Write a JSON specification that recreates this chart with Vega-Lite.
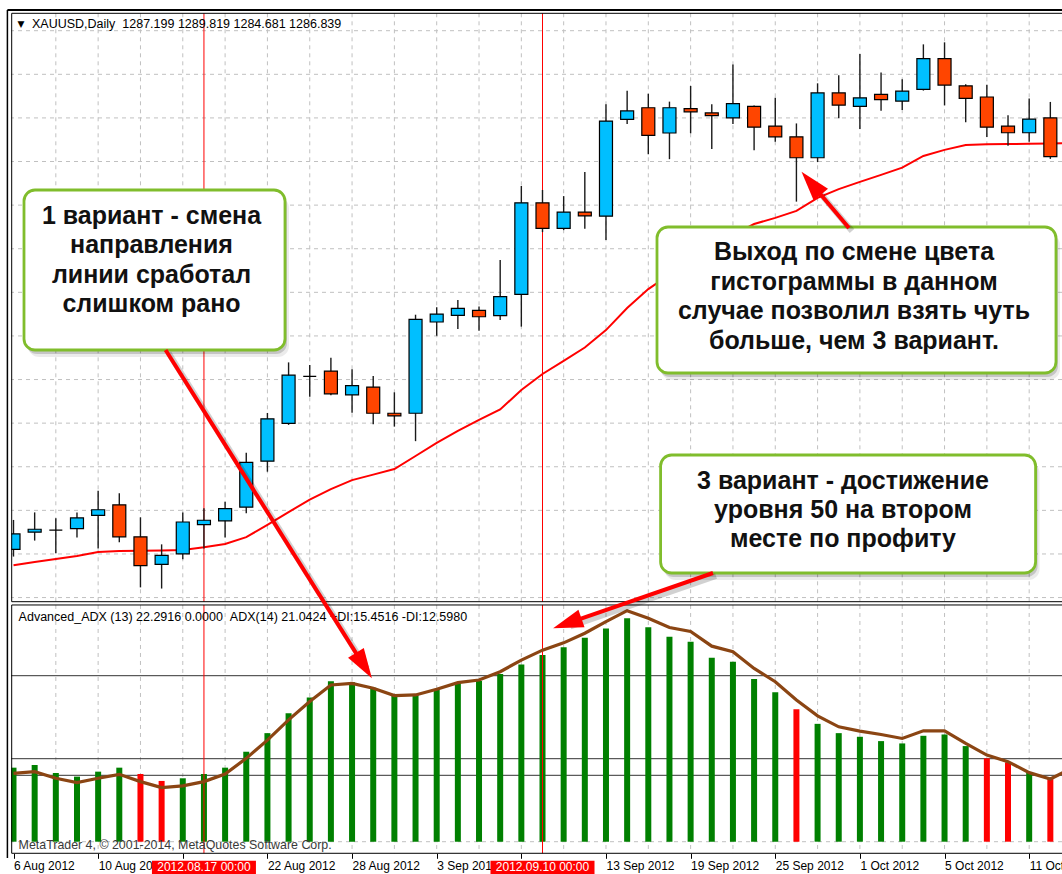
{
"$schema": "https://vega.github.io/schema/vega-lite/v6.json",
"width": 1062, "height": 874, "autosize": {"type": "none"}, "padding": 0,
"background": "#ffffff",
"config": {"view": {"stroke": null}, "font": "Liberation Sans"},
"datasets": {
"bars": [
{"date":"2012-08-06","open":1621.6,"high":1631.7,"low":1619.1,"close":1626.9,"ma":1616.1,"advAdx":22.3,"trend":"bull","adx":20.6},
{"date":"2012-08-07","open":1627.5,"high":1634.3,"low":1624.6,"close":1628.5,"ma":1617.2,"advAdx":23.1,"trend":"bull","adx":21.1},
{"date":"2012-08-08","open":1628.2,"high":1632.3,"low":1620.2,"close":1628.2,"ma":1618.3,"advAdx":20.7,"trend":"bull","adx":19.1},
{"date":"2012-08-09","open":1628.7,"high":1634.3,"low":1625.7,"close":1632.4,"ma":1619.3,"advAdx":19.6,"trend":"bull","adx":17.8},
{"date":"2012-08-10","open":1633.3,"high":1641.7,"low":1621.9,"close":1635.2,"ma":1620.7,"advAdx":21.1,"trend":"bull","adx":19.1},
{"date":"2012-08-13","open":1636.9,"high":1640.9,"low":1624.0,"close":1625.9,"ma":1621.0,"advAdx":22.3,"trend":"bull","adx":20.3},
{"date":"2012-08-14","open":1625.9,"high":1632.6,"low":1608.5,"close":1616.0,"ma":1621.1,"advAdx":20.4,"trend":"bear","adx":18.1},
{"date":"2012-08-15","open":1616.4,"high":1623.3,"low":1608.1,"close":1619.5,"ma":1621.2,"advAdx":18.3,"trend":"bear","adx":16.3},
{"date":"2012-08-16","open":1620.0,"high":1634.3,"low":1618.2,"close":1631.0,"ma":1621.4,"advAdx":19.1,"trend":"bull","adx":16.8},
{"date":"2012-08-17","open":1630.1,"high":1635.7,"low":1621.9,"close":1631.6,"ma":1622.3,"advAdx":20.4,"trend":"bull","adx":18.1},
{"date":"2012-08-20","open":1631.4,"high":1638.0,"low":1625.7,"close":1635.6,"ma":1623.4,"advAdx":22.3,"trend":"bull","adx":20.4},
{"date":"2012-08-21","open":1636.1,"high":1654.8,"low":1634.0,"close":1651.5,"ma":1625.8,"advAdx":27.1,"trend":"bull","adx":25.1},
{"date":"2012-08-22","open":1651.9,"high":1668.5,"low":1648.3,"close":1666.5,"ma":1630.0,"advAdx":32.7,"trend":"bull","adx":30.6},
{"date":"2012-08-23","open":1664.9,"high":1685.9,"low":1664.4,"close":1681.5,"ma":1634.4,"advAdx":38.7,"trend":"bull","adx":36.7},
{"date":"2012-08-24","open":1681.1,"high":1685.0,"low":1674.1,"close":1681.1,"ma":1638.7,"advAdx":43.4,"trend":"bull","adx":42.2},
{"date":"2012-08-27","open":1682.9,"high":1687.5,"low":1674.6,"close":1675.1,"ma":1642.3,"advAdx":48.3,"trend":"bull","adx":47.2},
{"date":"2012-08-28","open":1674.7,"high":1683.5,"low":1668.6,"close":1677.9,"ma":1645.4,"advAdx":48.0,"trend":"bull","adx":47.7},
{"date":"2012-08-29","open":1677.4,"high":1681.2,"low":1664.6,"close":1668.4,"ma":1647.3,"advAdx":46.4,"trend":"bull","adx":46.2},
{"date":"2012-08-30","open":1668.4,"high":1675.6,"low":1663.8,"close":1667.5,"ma":1649.2,"advAdx":44.2,"trend":"bull","adx":44.0},
{"date":"2012-08-31","open":1668.4,"high":1702.3,"low":1658.8,"close":1700.7,"ma":1653.7,"advAdx":44.4,"trend":"bull","adx":44.2},
{"date":"2012-09-03","open":1699.8,"high":1704.9,"low":1695.1,"close":1702.5,"ma":1658.2,"advAdx":45.7,"trend":"bull","adx":45.9},
{"date":"2012-09-04","open":1702.1,"high":1707.4,"low":1697.4,"close":1704.5,"ma":1662.3,"advAdx":47.7,"trend":"bull","adx":47.9},
{"date":"2012-09-05","open":1703.8,"high":1705.1,"low":1696.8,"close":1701.6,"ma":1666.1,"advAdx":48.4,"trend":"bull","adx":48.7},
{"date":"2012-09-06","open":1702.0,"high":1721.1,"low":1700.5,"close":1708.5,"ma":1669.7,"advAdx":50.5,"trend":"bull","adx":51.2},
{"date":"2012-09-07","open":1709.3,"high":1746.6,"low":1698.2,"close":1740.8,"ma":1676.4,"advAdx":53.4,"trend":"bull","adx":54.7},
{"date":"2012-09-10","open":1740.8,"high":1745.2,"low":1730.7,"close":1732.0,"ma":1681.9,"advAdx":56.2,"trend":"bull","adx":57.7},
{"date":"2012-09-11","open":1732.0,"high":1743.1,"low":1731.4,"close":1737.6,"ma":1686.4,"advAdx":58.6,"trend":"bull","adx":59.9},
{"date":"2012-09-12","open":1737.6,"high":1751.4,"low":1731.9,"close":1736.3,"ma":1691.0,"advAdx":61.4,"trend":"bull","adx":62.8},
{"date":"2012-09-13","open":1736.2,"high":1774.7,"low":1728.0,"close":1768.9,"ma":1697.0,"advAdx":64.2,"trend":"bull","adx":66.3},
{"date":"2012-09-14","open":1769.5,"high":1779.3,"low":1767.9,"close":1772.4,"ma":1704.6,"advAdx":67.3,"trend":"bull","adx":69.6},
{"date":"2012-09-17","open":1773.5,"high":1778.3,"low":1757.5,"close":1764.0,"ma":1711.1,"advAdx":64.6,"trend":"bull","adx":67.3},
{"date":"2012-09-18","open":1764.8,"high":1775.6,"low":1755.8,"close":1773.5,"ma":1716.1,"advAdx":61.7,"trend":"bull","adx":64.5},
{"date":"2012-09-19","open":1773.2,"high":1781.0,"low":1764.7,"close":1772.1,"ma":1720.6,"advAdx":60.2,"trend":"bull","adx":63.3},
{"date":"2012-09-20","open":1771.7,"high":1774.7,"low":1759.3,"close":1770.8,"ma":1725.3,"advAdx":55.4,"trend":"bull","adx":58.9},
{"date":"2012-09-21","open":1770.0,"high":1788.4,"low":1767.9,"close":1774.9,"ma":1729.7,"advAdx":54.2,"trend":"bull","adx":57.2},
{"date":"2012-09-24","open":1774.0,"high":1774.3,"low":1758.9,"close":1766.8,"ma":1733.5,"advAdx":49.0,"trend":"bull","adx":52.2},
{"date":"2012-09-25","open":1767.2,"high":1776.9,"low":1761.8,"close":1763.5,"ma":1735.6,"advAdx":45.0,"trend":"bull","adx":48.2},
{"date":"2012-09-26","open":1763.5,"high":1768.1,"low":1741.2,"close":1756.3,"ma":1738.0,"advAdx":39.9,"trend":"bear","adx":42.7},
{"date":"2012-09-27","open":1756.3,"high":1781.9,"low":1754.8,"close":1778.6,"ma":1742.5,"advAdx":35.5,"trend":"bull","adx":37.9},
{"date":"2012-09-28","open":1778.6,"high":1784.7,"low":1769.9,"close":1774.4,"ma":1745.5,"advAdx":32.7,"trend":"bull","adx":34.6},
{"date":"2012-10-01","open":1774.0,"high":1792.0,"low":1766.2,"close":1776.9,"ma":1748.0,"advAdx":31.6,"trend":"bull","adx":33.3},
{"date":"2012-10-02","open":1778.1,"high":1785.6,"low":1772.5,"close":1776.3,"ma":1750.4,"advAdx":30.3,"trend":"bull","adx":32.3},
{"date":"2012-10-03","open":1775.8,"high":1783.3,"low":1772.7,"close":1779.2,"ma":1752.9,"advAdx":29.6,"trend":"bull","adx":31.1},
{"date":"2012-10-04","open":1779.8,"high":1795.3,"low":1779.4,"close":1790.4,"ma":1756.9,"advAdx":31.9,"trend":"bull","adx":33.4},
{"date":"2012-10-05","open":1790.4,"high":1796.0,"low":1774.3,"close":1781.3,"ma":1759.0,"advAdx":32.3,"trend":"bull","adx":33.4},
{"date":"2012-10-08","open":1781.0,"high":1781.6,"low":1768.5,"close":1776.7,"ma":1760.7,"advAdx":28.8,"trend":"bull","adx":29.6},
{"date":"2012-10-09","open":1777.2,"high":1781.4,"low":1763.4,"close":1766.8,"ma":1760.9,"advAdx":25.1,"trend":"bear","adx":26.1},
{"date":"2012-10-10","open":1767.2,"high":1770.9,"low":1760.4,"close":1764.9,"ma":1761.0,"advAdx":23.9,"trend":"bear","adx":24.1},
{"date":"2012-10-11","open":1764.9,"high":1776.7,"low":1761.8,"close":1769.6,"ma":1761.1,"advAdx":20.8,"trend":"bull","adx":20.8},
{"date":"2012-10-12","open":1770.0,"high":1775.5,"low":1755.9,"close":1756.7,"ma":1761.2,"advAdx":19.1,"trend":"bear","adx":18.9},
{"date":"2012-10-15","open":1756.7,"high":1761.0,"low":1744.0,"close":1750.2,"ma":1761.3,"advAdx":21.5,"trend":"bull","adx":22.1}
],
"cross": [
{"date":"2012-08-17","label":"2012.08.17 00:00"},
{"date":"2012-09-10","label":"2012.09.10 00:00"}
],
"levels": [{"level":20},{"level":25},{"level":50}],
"priceGrid": [{"price":1605},{"price":1620},{"price":1635},{"price":1650},{"price":1665},{"price":1680},{"price":1695},{"price":1710},{"price":1725},{"price":1740},{"price":1755},{"price":1770},{"price":1785},{"price":1800}]
},
"layer": [
{
"layer": [
{"data":{"name":"bars"},
 "transform":[{"filter":{"field":"date","oneOf":["2012-08-08","2012-08-10","2012-08-14","2012-08-16","2012-08-20","2012-08-22","2012-08-24","2012-08-28","2012-08-30","2012-09-03","2012-09-05","2012-09-07","2012-09-11","2012-09-13","2012-09-17","2012-09-19","2012-09-21","2012-09-25","2012-09-27","2012-10-01","2012-10-03","2012-10-05","2012-10-09","2012-10-11"]}}],
 "mark":{"type":"rule","color":"#c0c0c0","strokeDash":[4,4],"strokeWidth":1},
 "encoding":{
  "x":{"field":"date","type":"ordinal","title":null,"axis":null,"scale":{"type":"point","range":[13.5,1071.5],"padding":0}},
  "y":{"datum":1805.985,"type":"quantitative","axis":null,"scale":{"domain":[1509.904,1810.56],"nice":false,"zero":false}},
  "y2":{"datum":1603.575}}},
{"data":{"name":"priceGrid"},
 "mark":{"type":"rule","color":"#c0c0c0","strokeDash":[4,4],"strokeWidth":1},
 "encoding":{
  "y":{"field":"price","type":"quantitative","title":null,"axis":null,"scale":{"domain":[1509.904,1810.56],"nice":false,"zero":false}}}},
{"data":{"name":"cross"},
 "mark":{"type":"rule","color":"#ff0000","strokeWidth":1},
 "encoding":{
  "x":{"field":"date","type":"ordinal","title":null,"axis":null,"scale":{"type":"point","range":[13.5,1071.5],"padding":0}},
  "y":{"datum":1805.985,"type":"quantitative","axis":null,"scale":{"domain":[1509.904,1810.56],"nice":false,"zero":false}},
  "y2":{"datum":1603.575}}},
{"data":{"name":"bars"},
 "mark":{"type":"line","color":"#ff0000","strokeWidth":2,"clip":true},
 "encoding":{
  "x":{"field":"date","type":"ordinal","title":null,"axis":null,"scale":{"type":"point","range":[13.5,1071.5],"padding":0}},
  "y":{"field":"ma","type":"quantitative","title":null,"axis":null,"scale":{"domain":[1509.904,1810.56],"nice":false,"zero":false}}}},
{"data":{"name":"bars"},
 "mark":{"type":"rule","color":"#1a1a1a","strokeWidth":1.4},
 "encoding":{
  "x":{"field":"date","type":"ordinal","title":null,"axis":null,"scale":{"type":"point","range":[13.5,1071.5],"padding":0}},
  "y":{"field":"low","type":"quantitative","title":null,"axis":null,"scale":{"domain":[1509.904,1810.56],"nice":false,"zero":false}},
  "y2":{"field":"high"}}},
{"data":{"name":"bars"},
 "mark":{"type":"bar","size":13,"stroke":"#000000","strokeWidth":1.2},
 "encoding":{
  "x":{"field":"date","type":"ordinal","title":null,"axis":null,"scale":{"type":"point","range":[13.5,1071.5],"padding":0}},
  "y":{"field":"open","type":"quantitative","title":null,"axis":null,"scale":{"domain":[1509.904,1810.56],"nice":false,"zero":false}},
  "y2":{"field":"close"},
  "fill":{"condition":{"test":"datum.close > datum.open","value":"#00bfff"},"value":"#ff4500"}}}
]
},
{
"layer": [
{"data":{"name":"bars"},
 "transform":[{"filter":{"field":"date","oneOf":["2012-08-08","2012-08-10","2012-08-14","2012-08-16","2012-08-20","2012-08-22","2012-08-24","2012-08-28","2012-08-30","2012-09-03","2012-09-05","2012-09-07","2012-09-11","2012-09-13","2012-09-17","2012-09-19","2012-09-21","2012-09-25","2012-09-27","2012-10-01","2012-10-03","2012-10-05","2012-10-09","2012-10-11"]}}],
 "mark":{"type":"rule","color":"#c0c0c0","strokeDash":[4,4],"strokeWidth":1},
 "encoding":{
  "x":{"field":"date","type":"ordinal","title":null,"scale":{"type":"point","range":[13.5,1071.5],"padding":0},
   "axis":{"orient":"bottom","offset":-20.7,"domain":false,"grid":false,"title":null,"ticks":true,"tickSize":5,"tickColor":"#000000","tickWidth":1,
    "values":["2012-08-06","2012-08-10","2012-08-16","2012-08-22","2012-08-28","2012-09-03","2012-09-07","2012-09-13","2012-09-19","2012-09-25","2012-10-01","2012-10-05","2012-10-11"],
    "labelExpr":"datum.value == '2012-08-16' || datum.value == '2012-09-07' ? '' : toNumber(substring(datum.value, 8, 10)) + ' ' + ['Jan','Feb','Mar','Apr','May','Jun','Jul','Aug','Sep','Oct','Nov','Dec'][toNumber(substring(datum.value, 5, 7)) - 1] + ' ' + substring(datum.value, 0, 4)",
    "labelAlign":"left","labelAngle":0,"labelBaseline":"top","labelPadding":2,"labelFont":"Liberation Sans","labelFontSize":12,"labelColor":"#000000","labelOverlap":false,"labelBound":false,"labelFlush":false}},
  "y":{"datum":71.3,"type":"quantitative","axis":null,"scale":{"domain":[-9.729,253.524],"nice":false,"zero":false}},
  "y2":{"datum":-3.49}}},
{"data":{"values":[{}]},
 "mark":{"type":"rule","color":"#c0c0c0","strokeDash":[4,4],"strokeWidth":1},
 "encoding":{
  "y":{"datum":0,"type":"quantitative","axis":null,"scale":{"domain":[-9.729,253.524],"nice":false,"zero":false}}}},
{"data":{"name":"levels"},
 "mark":{"type":"rule","color":"#333333","strokeWidth":1},
 "encoding":{
  "y":{"field":"level","type":"quantitative","title":null,"axis":null,"scale":{"domain":[-9.729,253.524],"nice":false,"zero":false}}}},
{"data":{"name":"bars"},
 "mark":{"type":"bar","size":6},
 "encoding":{
  "x":{"field":"date","type":"ordinal","title":null,"scale":{"type":"point","range":[13.5,1071.5],"padding":0}},
  "y":{"field":"advAdx","type":"quantitative","title":null,"axis":null,"scale":{"domain":[-9.729,253.524],"nice":false,"zero":false}},
  "y2":{"datum":0},
  "color":{"field":"trend","type":"nominal","legend":null,"scale":{"domain":["bull","bear"],"range":["#008000","#ff0000"]}}}},
{"data":{"name":"cross"},
 "mark":{"type":"rule","color":"#ff0000","strokeWidth":1},
 "encoding":{
  "x":{"field":"date","type":"ordinal","title":null,"scale":{"type":"point","range":[13.5,1071.5],"padding":0}},
  "y":{"datum":71.3,"type":"quantitative","axis":null,"scale":{"domain":[-9.729,253.524],"nice":false,"zero":false}},
  "y2":{"datum":-3.49}}},
{"data":{"name":"bars"},
 "mark":{"type":"line","color":"#8b4513","strokeWidth":3.2,"clip":true},
 "encoding":{
  "x":{"field":"date","type":"ordinal","title":null,"scale":{"type":"point","range":[13.5,1071.5],"padding":0}},
  "y":{"field":"adx","type":"quantitative","title":null,"axis":null,"scale":{"domain":[-9.729,253.524],"nice":false,"zero":false}}}},
{"data":{"name":"cross"},
 "mark":{"type":"bar","size":104,"color":"#ff0000"},
 "encoding":{
  "x":{"field":"date","type":"ordinal","title":null,"scale":{"type":"point","range":[13.5,1071.5],"padding":0}},
  "y":{"datum":-5.72,"type":"quantitative","axis":null,"scale":{"domain":[-9.729,253.524],"nice":false,"zero":false}},
  "y2":{"datum":-9.9}}},
{"data":{"name":"cross"},
 "mark":{"type":"text","color":"#ffffff","fontSize":12,"font":"Liberation Sans","align":"center","baseline":"middle"},
 "encoding":{
  "x":{"field":"date","type":"ordinal","title":null,"scale":{"type":"point","range":[13.5,1071.5],"padding":0}},
  "y":{"datum":-7.6,"type":"quantitative","axis":null,"scale":{"domain":[-9.729,253.524],"nice":false,"zero":false}},
  "text":{"field":"label"}}}
]
},
{
"data": {"values": [{}]},
"layer": [
{"mark":{"type":"rect","fill":"#ffffff"},
 "encoding":{
  "x":{"datum":-0.75,"type":"quantitative","axis":null,"scale":{"domain":[-0.638,49.551],"nice":false,"zero":false}},
  "x2":{"datum":-0.1087},
  "y":{"datum":1806.776,"type":"quantitative","axis":null,"scale":{"domain":[1509.904,1810.56],"nice":false,"zero":false}},
  "y2":{"datum":1509.904}}},
{"mark":{"type":"rect","filled":false,"stroke":"#000000","strokeWidth":1},
 "encoding":{
  "x":{"datum":-0.085,"type":"quantitative","axis":null,"scale":{"domain":[-0.638,49.551],"nice":false,"zero":false}},
  "x2":{"datum":50.5},
  "y":{"datum":1805.985,"type":"quantitative","axis":null,"scale":{"domain":[1509.904,1810.56],"nice":false,"zero":false}},
  "y2":{"datum":1603.575}}},
{"mark":{"type":"rule","color":"#000000","strokeWidth":2},
 "encoding":{
  "x":{"datum":-0.288,"type":"quantitative","axis":null,"scale":{"domain":[-0.638,49.551],"nice":false,"zero":false}},
  "x2":{"datum":50.5},
  "y":{"datum":1807.12,"type":"quantitative","axis":null,"scale":{"domain":[1509.904,1810.56],"nice":false,"zero":false}}}},
{"mark":{"type":"rule","color":"#000000","strokeWidth":1.5},
 "encoding":{
  "x":{"datum":-0.288,"type":"quantitative","axis":null,"scale":{"domain":[-0.638,49.551],"nice":false,"zero":false}},
  "y":{"datum":1807.12,"type":"quantitative","axis":null,"scale":{"domain":[1509.904,1810.56],"nice":false,"zero":false}},
  "y2":{"datum":1515.41}}},
{"mark":{"type":"text","text":"▼","font":"DejaVu Sans","fontSize":9,"color":"#000000","align":"center","baseline":"middle"},
 "encoding":{
  "x":{"datum":0.354,"type":"quantitative","axis":null,"scale":{"domain":[-0.638,49.551],"nice":false,"zero":false}},
  "y":{"datum":1802.2,"type":"quantitative","axis":null,"scale":{"domain":[1509.904,1810.56],"nice":false,"zero":false}}}},
{"mark":{"type":"text","text":"XAUUSD,Daily \u00a01287.199 1289.819 1284.681 1286.839","fontSize":12.5,"color":"#000000","align":"left","baseline":"middle"},
 "encoding":{
  "x":{"datum":0.874,"type":"quantitative","axis":null,"scale":{"domain":[-0.638,49.551],"nice":false,"zero":false}},
  "y":{"datum":1802.2,"type":"quantitative","axis":null,"scale":{"domain":[1509.904,1810.56],"nice":false,"zero":false}}}},
{"encoding":{
  "x":{"datum":0.496,"type":"quantitative","axis":null,"scale":{"domain":[-0.638,49.551],"nice":false,"zero":false}},
  "x2":{"datum":12.831},
  "y":{"datum":1745.2,"type":"quantitative","axis":null,"scale":{"domain":[1509.904,1810.56],"nice":false,"zero":false}},
  "y2":{"datum":1690.16}},
 "layer":[
  {"mark":{"type":"rect","cornerRadius":11,"fill":"#000000","opacity":0.08,"xOffset":4,"x2Offset":4,"yOffset":7,"y2Offset":7}},
  {"mark":{"type":"rect","cornerRadius":11,"fill":"#000000","opacity":0.16,"xOffset":2,"x2Offset":2,"yOffset":4,"y2Offset":4}},
  {"mark":{"type":"rect","cornerRadius":11,"fill":"#ffffff","stroke":"#80bd2c","strokeWidth":2.8}}
 ]},
{"encoding":{
  "x":{"datum":30.411,"type":"quantitative","axis":null,"scale":{"domain":[-0.638,49.551],"nice":false,"zero":false}},
  "x2":{"datum":49.267},
  "y":{"datum":1732.47,"type":"quantitative","axis":null,"scale":{"domain":[1509.904,1810.56],"nice":false,"zero":false}},
  "y2":{"datum":1682.25}},
 "layer":[
  {"mark":{"type":"rect","cornerRadius":11,"fill":"#000000","opacity":0.08,"xOffset":4,"x2Offset":4,"yOffset":7,"y2Offset":7}},
  {"mark":{"type":"rect","cornerRadius":11,"fill":"#000000","opacity":0.16,"xOffset":2,"x2Offset":2,"yOffset":4,"y2Offset":4}},
  {"mark":{"type":"rect","cornerRadius":11,"fill":"#ffffff","stroke":"#80bd2c","strokeWidth":2.8}}
 ]},
{"encoding":{
  "x":{"datum":30.581,"type":"quantitative","axis":null,"scale":{"domain":[-0.638,49.551],"nice":false,"zero":false}},
  "x2":{"datum":48.303},
  "y":{"datum":1654.04,"type":"quantitative","axis":null,"scale":{"domain":[1509.904,1810.56],"nice":false,"zero":false}},
  "y2":{"datum":1613.45}},
 "layer":[
  {"mark":{"type":"rect","cornerRadius":11,"fill":"#000000","opacity":0.08,"xOffset":4,"x2Offset":4,"yOffset":7,"y2Offset":7}},
  {"mark":{"type":"rect","cornerRadius":11,"fill":"#000000","opacity":0.16,"xOffset":2,"x2Offset":2,"yOffset":4,"y2Offset":4}},
  {"mark":{"type":"rect","cornerRadius":11,"fill":"#ffffff","stroke":"#80bd2c","strokeWidth":2.8}}
 ]},
{"mark":{"type":"text","fontSize":25,"fontWeight":"bold","color":"#111111","align":"center","baseline":"middle","lineHeight":29.3},
 "encoding":{
  "x":{"datum":6.522,"type":"quantitative","axis":null,"scale":{"domain":[-0.638,49.551],"nice":false,"zero":false}},
  "y":{"datum":1736.26,"type":"quantitative","axis":null,"scale":{"domain":[1509.904,1810.56],"nice":false,"zero":false}},
  "text":{"value":["1 вариант - смена","направления","линии сработал","слишком рано"]}}},
{"mark":{"type":"text","fontSize":25,"fontWeight":"bold","color":"#111111","align":"center","baseline":"middle","lineHeight":29.5},
 "encoding":{
  "x":{"datum":39.721,"type":"quantitative","axis":null,"scale":{"domain":[-0.638,49.551],"nice":false,"zero":false}},
  "y":{"datum":1723.87,"type":"quantitative","axis":null,"scale":{"domain":[1509.904,1810.56],"nice":false,"zero":false}},
  "text":{"value":["Выход по смене цвета","гистограммы в данном","случае позволил взять чуть","больше, чем 3 вариант."]}}},
{"mark":{"type":"text","fontSize":25,"fontWeight":"bold","color":"#111111","align":"center","baseline":"middle","lineHeight":29.2},
 "encoding":{
  "x":{"datum":39.201,"type":"quantitative","axis":null,"scale":{"domain":[-0.638,49.551],"nice":false,"zero":false}},
  "y":{"datum":1645.1,"type":"quantitative","axis":null,"scale":{"domain":[1509.904,1810.56],"nice":false,"zero":false}},
  "text":{"value":["3 вариант - достижение","уровня 50 на втором ","месте по профиту"]}}},
{"encoding":{
  "x":{"datum":39.485,"type":"quantitative","axis":null,"scale":{"domain":[-0.638,49.551],"nice":false,"zero":false}},
  "x2":{"datum":37.699},
  "y":{"datum":1732.13,"type":"quantitative","axis":null,"scale":{"domain":[1509.904,1810.56],"nice":false,"zero":false}},
  "y2":{"datum":1747.54}},
 "layer":[
  {"mark":{"type":"rule","color":"#000000","opacity":0.18,"strokeWidth":6,"xOffset":3,"x2Offset":3,"yOffset":3,"y2Offset":3}},
  {"mark":{"type":"rule","color":"#ff0000","strokeWidth":4}}
 ]},
{"mark":{"type":"point","shape":"M0,-1L0.62,1L-0.62,1Z","size":900,"filled":true,"color":"#ff0000","opacity":1,"angle":319.8,"strokeWidth":0},
 "encoding":{
  "x":{"datum":37.699,"type":"quantitative","axis":null,"scale":{"domain":[-0.638,49.551],"nice":false,"zero":false}},
  "y":{"datum":1747.54,"type":"quantitative","axis":null,"scale":{"domain":[1509.904,1810.56],"nice":false,"zero":false}}}}
]
},
{
"data": {"values": [{}]},
"layer": [
{"mark":{"type":"rect","filled":false,"stroke":"#000000","strokeWidth":1},
 "encoding":{
  "x":{"datum":-0.085,"type":"quantitative","axis":null,"scale":{"domain":[-0.638,49.551],"nice":false,"zero":false}},
  "x2":{"datum":50.5},
  "y":{"datum":71.3,"type":"quantitative","axis":null,"scale":{"domain":[-9.729,253.524],"nice":false,"zero":false}},
  "y2":{"datum":-3.49}}},
{"mark":{"type":"text","text":"Advanced_ADX (13) 22.2916 0.0000 \u00a0ADX(14) 21.0424 +DI:15.4516 -DI:12.5980","fontSize":12.5,"color":"#000000","align":"left","baseline":"middle"},
 "encoding":{
  "x":{"datum":0.241,"type":"quantitative","axis":null,"scale":{"domain":[-0.638,49.551],"nice":false,"zero":false}},
  "y":{"datum":67.77,"type":"quantitative","axis":null,"scale":{"domain":[-9.729,253.524],"nice":false,"zero":false}}}},
{"mark":{"type":"text","text":"MetaTrader 4, © 2001-2014, MetaQuotes Software Corp.","fontSize":12.4,"color":"#3a3a3a","align":"left","baseline":"middle"},
 "encoding":{
  "x":{"datum":0.241,"type":"quantitative","axis":null,"scale":{"domain":[-0.638,49.551],"nice":false,"zero":false}},
  "y":{"datum":-0.99,"type":"quantitative","axis":null,"scale":{"domain":[-9.729,253.524],"nice":false,"zero":false}}}},
{"encoding":{
  "x":{"datum":7.188,"type":"quantitative","axis":null,"scale":{"domain":[-0.638,49.551],"nice":false,"zero":false}},
  "x2":{"datum":16.56},
  "y":{"datum":148.1,"type":"quantitative","axis":null,"scale":{"domain":[-9.729,253.524],"nice":false,"zero":false}},
  "y2":{"datum":53.04}},
 "layer":[
  {"mark":{"type":"rule","color":"#000000","opacity":0.18,"strokeWidth":6,"xOffset":3,"x2Offset":3,"yOffset":3,"y2Offset":3}},
  {"mark":{"type":"rule","color":"#ff0000","strokeWidth":4}}
 ]},
{"mark":{"type":"point","shape":"M0,-1L0.62,1L-0.62,1Z","size":900,"filled":true,"color":"#ff0000","opacity":1,"angle":147.8,"strokeWidth":0},
 "encoding":{
  "x":{"datum":16.56,"type":"quantitative","axis":null,"scale":{"domain":[-0.638,49.551],"nice":false,"zero":false}},
  "y":{"datum":53.04,"type":"quantitative","axis":null,"scale":{"domain":[-9.729,253.524],"nice":false,"zero":false}}}},
{"encoding":{
  "x":{"datum":33.058,"type":"quantitative","axis":null,"scale":{"domain":[-0.638,49.551],"nice":false,"zero":false}},
  "x2":{"datum":26.172},
  "y":{"datum":80.93,"type":"quantitative","axis":null,"scale":{"domain":[-9.729,253.524],"nice":false,"zero":false}},
  "y2":{"datum":65.75}},
 "layer":[
  {"mark":{"type":"rule","color":"#000000","opacity":0.18,"strokeWidth":6,"xOffset":3,"x2Offset":3,"yOffset":3,"y2Offset":3}},
  {"mark":{"type":"rule","color":"#ff0000","strokeWidth":4}}
 ]},
{"mark":{"type":"point","shape":"M0,-1L0.62,1L-0.62,1Z","size":900,"filled":true,"color":"#ff0000","opacity":1,"angle":250.9,"strokeWidth":0},
 "encoding":{
  "x":{"datum":26.172,"type":"quantitative","axis":null,"scale":{"domain":[-0.638,49.551],"nice":false,"zero":false}},
  "y":{"datum":65.75,"type":"quantitative","axis":null,"scale":{"domain":[-9.729,253.524],"nice":false,"zero":false}}}}
]
}
],
"resolve": {"scale": {"x": "independent", "y": "independent"}}
}
